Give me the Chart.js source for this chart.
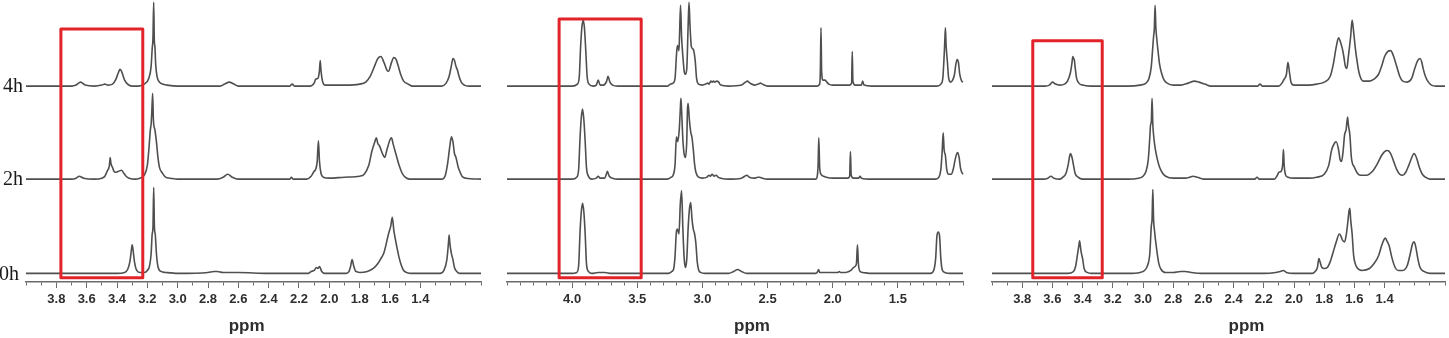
<!DOCTYPE html>
<html>
<head>
<meta charset="utf-8">
<script src="https://cdn.jsdelivr.net/npm/chart.js@4.4.0/dist/chart.umd.min.js"></script>
<style>
  html, body { margin: 0; padding: 0; background: #fff; }
  body { width: 1449px; height: 338px; position: relative; overflow: hidden; }
  canvas { position: absolute; top: 0; }
</style>
</head>
<body>
<canvas id="chA" width="490" height="338" style="left:0px"></canvas>
<canvas id="chB" width="480" height="338" style="left:490px"></canvas>
<canvas id="chC" width="479" height="338" style="left:970px"></canvas>
<script>
// ---------- data: [ppm, intensity] ----------
var HOURS = ['4h', '2h', '0h'];

var A_4h = [[4.00,0],[3.70,0],[3.67,1],[3.64,4],[3.61,1],[3.55,0],[3.50,1],[3.48,2],[3.46,1],[3.43,2],[3.41,6],[3.39,14],[3.38,17],[3.37,15],[3.35,6],[3.33,2],[3.30,0],[3.26,0],[3.22,2],[3.19,8],[3.175,20],[3.168,38],[3.163,48],[3.158,85],[3.154,46],[3.15,40],[3.145,22],[3.135,9],[3.12,4],[3.10,2],[3.07,1],[3.00,0],[2.72,0],[2.69,2],[2.66,4],[2.63,2],[2.60,0],[2.26,0],[2.245,2],[2.23,0],[2.13,0],[2.10,3],[2.09,7],[2.075,8],[2.065,16],[2.06,26],[2.055,16],[2.045,5],[2.03,1],[2.00,1],[1.90,1],[1.80,2],[1.76,4],[1.73,10],[1.70,21],[1.68,28],[1.66,30],[1.64,24],[1.62,16],[1.61,15],[1.59,24],[1.575,29],[1.56,27],[1.545,20],[1.53,12],[1.51,5],[1.48,2],[1.45,0],[1.26,0],[1.23,3],[1.21,10],[1.195,21],[1.185,28],[1.175,26],[1.165,20],[1.155,16],[1.145,10],[1.13,4],[1.11,1],[1.08,0],[1.00,0]];
var A_2h = [[4.00,0],[3.70,0],[3.67,1],[3.65,3],[3.62,1],[3.55,0],[3.50,1],[3.48,3],[3.465,8],[3.45,14],[3.445,22],[3.44,16],[3.43,12],[3.42,8],[3.41,7],[3.39,8],[3.37,9],[3.355,6],[3.34,3],[3.32,1],[3.28,0],[3.25,1],[3.22,4],[3.20,14],[3.19,30],[3.18,50],[3.175,56],[3.17,70],[3.165,87],[3.16,60],[3.15,50],[3.14,38],[3.13,22],[3.12,12],[3.10,6],[3.08,2],[3.05,1],[3.00,0],[2.74,0],[2.70,2],[2.67,5],[2.64,2],[2.60,0],[2.26,0],[2.25,2],[2.24,0],[2.15,0],[2.12,3],[2.10,8],[2.09,10],[2.08,18],[2.072,39],[2.065,18],[2.055,6],[2.04,2],[2.00,1],[1.90,2],[1.80,3],[1.77,5],[1.74,14],[1.72,28],[1.70,38],[1.69,42],[1.68,36],[1.67,34],[1.65,26],[1.635,22],[1.62,30],[1.60,40],[1.59,42],[1.58,36],[1.56,25],[1.54,14],[1.52,6],[1.50,2],[1.47,0],[1.26,0],[1.235,4],[1.22,16],[1.205,34],[1.195,43],[1.185,38],[1.175,26],[1.165,22],[1.15,12],[1.14,8],[1.125,3],[1.10,1],[1.00,0]];
var A_0h = [[4.00,0],[3.40,0],[3.35,1],[3.33,4],[3.315,12],[3.305,24],[3.30,29],[3.295,25],[3.285,12],[3.27,3],[3.25,1],[3.22,1],[3.20,3],[3.185,8],[3.175,20],[3.168,40],[3.163,46],[3.158,87],[3.153,46],[3.148,40],[3.14,20],[3.13,7],[3.11,2],[3.08,1],[3.00,0],[2.80,1],[2.76,2],[2.74,2],[2.70,1],[2.60,1],[2.40,0],[2.14,0],[2.12,2],[2.10,3],[2.085,6],[2.075,5],[2.065,7],[2.05,2],[2.03,0],[1.89,0],[1.87,2],[1.86,7],[1.85,14],[1.84,8],[1.825,2],[1.80,1],[1.75,2],[1.71,5],[1.68,10],[1.66,15],[1.64,21],[1.625,30],[1.61,40],[1.595,48],[1.585,57],[1.575,44],[1.565,35],[1.555,27],[1.54,16],[1.525,8],[1.51,3],[1.49,1],[1.46,0],[1.27,0],[1.245,3],[1.225,14],[1.215,30],[1.21,39],[1.205,30],[1.195,20],[1.185,14],[1.175,6],[1.16,2],[1.14,0],[1.00,0]];

var B_4h = [[4.50,0],[4.00,0],[3.96,2],[3.945,10],[3.935,40],[3.925,60],[3.915,67],[3.905,58],[3.895,35],[3.885,10],[3.87,2],[3.84,0],[3.815,1],[3.80,6],[3.785,1],[3.76,1],[3.735,5],[3.725,10],[3.71,4],[3.69,1],[3.65,0],[3.27,0],[3.245,2],[3.225,3],[3.21,8],[3.20,30],[3.195,38],[3.19,41],[3.18,36],[3.175,55],[3.168,82],[3.16,50],[3.15,30],[3.14,15],[3.13,12],[3.12,18],[3.11,60],[3.103,85],[3.095,60],[3.085,40],[3.075,38],[3.065,35],[3.055,25],[3.045,8],[3.03,2],[3.00,1],[2.975,2],[2.96,3],[2.95,2],[2.935,5],[2.925,4],[2.915,5],[2.905,4],[2.89,5],[2.875,4],[2.86,1],[2.80,0],[2.70,1],[2.67,4],[2.655,5],[2.635,3],[2.60,1],[2.57,2],[2.555,3],[2.54,2],[2.50,0],[2.12,0],[2.10,2],[2.095,15],[2.09,59],[2.085,15],[2.075,6],[2.06,6],[2.045,4],[2.03,2],[2.00,1],[1.87,1],[1.855,3],[1.85,35],[1.845,5],[1.83,1],[1.78,1],[1.77,5],[1.76,1],[1.70,0],[1.20,0],[1.17,2],[1.155,8],[1.145,30],[1.14,45],[1.135,59],[1.13,42],[1.12,25],[1.11,8],[1.095,4],[1.08,6],[1.065,12],[1.055,22],[1.045,27],[1.035,24],[1.025,12],[1.01,5],[1.00,4]];
var B_2h = [[4.50,0],[4.00,0],[3.965,2],[3.95,10],[3.94,40],[3.93,62],[3.92,71],[3.91,60],[3.90,38],[3.89,12],[3.875,3],[3.85,0],[3.815,1],[3.80,3],[3.785,1],[3.75,1],[3.735,6],[3.73,8],[3.715,3],[3.69,1],[3.65,0],[3.27,0],[3.24,2],[3.225,4],[3.21,15],[3.20,43],[3.19,38],[3.178,50],[3.17,70],[3.165,82],[3.16,70],[3.15,40],[3.14,25],[3.13,22],[3.12,40],[3.115,70],[3.11,77],[3.10,60],[3.09,48],[3.08,42],[3.07,30],[3.06,15],[3.05,7],[3.03,2],[3.00,1],[2.965,2],[2.95,4],[2.94,3],[2.925,5],[2.91,3],[2.895,4],[2.88,2],[2.86,1],[2.80,0],[2.70,1],[2.675,3],[2.66,4],[2.64,2],[2.60,1],[2.575,2],[2.56,2],[2.54,1],[2.50,0],[2.13,0],[2.12,2],[2.112,15],[2.107,42],[2.10,12],[2.09,5],[2.07,3],[2.05,2],[2.00,1],[1.885,1],[1.87,3],[1.864,28],[1.858,4],[1.84,1],[1.80,1],[1.79,3],[1.78,1],[1.70,0],[1.21,0],[1.185,2],[1.17,10],[1.16,28],[1.152,47],[1.145,30],[1.135,24],[1.125,10],[1.11,5],[1.09,5],[1.075,10],[1.06,20],[1.05,25],[1.04,27],[1.03,22],[1.02,12],[1.01,7],[1.00,5]];
var B_0h = [[4.50,0],[4.00,0],[3.965,1],[3.95,8],[3.94,40],[3.93,62],[3.92,71],[3.91,62],[3.90,40],[3.89,10],[3.875,2],[3.85,0],[3.80,1],[3.75,1],[3.70,0],[3.26,0],[3.235,2],[3.22,5],[3.21,18],[3.20,42],[3.192,45],[3.18,40],[3.17,70],[3.16,84],[3.15,45],[3.14,15],[3.13,6],[3.12,15],[3.11,45],[3.10,65],[3.09,72],[3.08,55],[3.07,45],[3.06,40],[3.05,30],[3.04,12],[3.03,4],[3.015,1],[2.98,0],[2.80,0],[2.76,2],[2.73,4],[2.70,2],[2.66,0],[2.13,0],[2.115,2],[2.108,4],[2.10,1],[2.00,1],[1.96,1],[1.95,2],[1.94,1],[1.90,1],[1.86,3],[1.84,6],[1.83,7],[1.818,10],[1.81,29],[1.803,10],[1.79,2],[1.77,1],[1.70,0],[1.25,0],[1.225,3],[1.21,15],[1.20,38],[1.19,42],[1.18,38],[1.17,15],[1.16,4],[1.14,1],[1.10,0],[1.00,0]];

var C_4h = [[4.00,0],[3.65,0],[3.62,1],[3.60,4],[3.58,2],[3.55,1],[3.52,2],[3.50,5],[3.48,14],[3.47,24],[3.465,30],[3.46,28],[3.455,27],[3.45,20],[3.44,8],[3.425,3],[3.40,1],[3.35,0],[3.10,0],[3.02,1],[2.98,3],[2.96,8],[2.945,20],[2.935,40],[2.93,50],[2.925,58],[2.92,82],[2.915,60],[2.91,50],[2.90,35],[2.89,22],[2.875,12],[2.86,6],[2.84,3],[2.80,1],[2.75,1],[2.70,3],[2.66,5],[2.63,4],[2.59,2],[2.55,0],[2.24,0],[2.225,2],[2.21,0],[2.10,0],[2.08,3],[2.065,7],[2.05,12],[2.04,24],[2.03,14],[2.02,4],[2.00,1],[1.90,1],[1.85,2],[1.80,4],[1.76,10],[1.74,22],[1.72,40],[1.705,49],[1.695,46],[1.68,38],[1.67,30],[1.66,20],[1.65,18],[1.64,30],[1.625,50],[1.615,67],[1.605,55],[1.595,40],[1.585,28],[1.57,14],[1.555,7],[1.54,5],[1.50,5],[1.47,7],[1.44,12],[1.42,20],[1.40,30],[1.38,35],[1.36,36],[1.34,30],[1.32,20],[1.30,10],[1.28,5],[1.25,4],[1.22,8],[1.20,18],[1.18,26],[1.165,28],[1.155,25],[1.145,18],[1.13,10],[1.11,4],[1.09,1],[1.06,0],[1.00,0]];
var C_2h = [[4.00,0],[3.66,0],[3.63,1],[3.61,3],[3.59,1],[3.55,0],[3.53,2],[3.51,6],[3.495,15],[3.485,24],[3.48,26],[3.47,22],[3.46,14],[3.45,6],[3.43,2],[3.40,0],[3.10,0],[3.03,1],[3.00,3],[2.98,8],[2.965,20],[2.955,42],[2.95,55],[2.945,58],[2.94,82],[2.935,56],[2.93,45],[2.92,32],[2.905,20],[2.89,12],[2.87,6],[2.85,3],[2.80,1],[2.72,1],[2.69,2],[2.67,3],[2.64,2],[2.60,0],[2.26,0],[2.245,2],[2.23,0],[2.13,0],[2.11,4],[2.10,7],[2.085,8],[2.075,15],[2.07,30],[2.065,14],[2.055,4],[2.04,2],[2.00,1],[1.90,1],[1.85,2],[1.80,5],[1.77,14],[1.75,30],[1.73,37],[1.72,38],[1.705,30],[1.695,20],[1.685,18],[1.675,28],[1.665,45],[1.655,50],[1.645,63],[1.64,55],[1.63,45],[1.62,22],[1.60,12],[1.58,6],[1.56,4],[1.52,4],[1.48,8],[1.45,15],[1.42,24],[1.40,28],[1.38,29],[1.36,26],[1.34,18],[1.32,10],[1.30,5],[1.28,4],[1.26,7],[1.24,14],[1.22,22],[1.205,26],[1.195,24],[1.185,20],[1.17,12],[1.15,5],[1.13,2],[1.10,0],[1.00,0]];
var C_0h = [[4.00,0],[3.50,0],[3.46,2],[3.445,8],[3.435,18],[3.425,28],[3.42,33],[3.415,28],[3.41,22],[3.40,15],[3.39,5],[3.37,1],[3.34,0],[3.10,0],[3.02,1],[2.99,3],[2.97,8],[2.955,20],[2.945,48],[2.94,55],[2.935,85],[2.93,55],[2.925,45],[2.91,25],[2.895,10],[2.88,4],[2.85,1],[2.80,1],[2.75,2],[2.72,2],[2.68,1],[2.60,0],[2.20,0],[2.12,1],[2.09,2],[2.07,3],[2.05,1],[2.00,0],[1.88,0],[1.86,2],[1.845,6],[1.835,15],[1.828,12],[1.815,6],[1.80,5],[1.78,6],[1.76,12],[1.74,22],[1.72,32],[1.70,40],[1.69,38],[1.68,34],[1.665,32],[1.655,38],[1.645,50],[1.635,64],[1.63,66],[1.625,55],[1.615,40],[1.605,18],[1.59,8],[1.57,4],[1.55,3],[1.50,5],[1.47,10],[1.44,18],[1.42,28],[1.405,34],[1.395,36],[1.385,33],[1.37,28],[1.35,15],[1.33,6],[1.31,3],[1.28,3],[1.25,8],[1.23,20],[1.215,30],[1.205,32],[1.195,28],[1.18,15],[1.165,6],[1.14,2],[1.10,0],[1.00,0]];

// tick labels shown on each ppm axis
var TICKS_A = ['3.8','3.6','3.4','3.2','3.0','2.8','2.6','2.4','2.2','2.0','1.8','1.6','1.4'];
var TICKS_B = ['4.0','3.5','3.0','2.5','2.0','1.5'];
var TICKS_C = ['3.8','3.6','3.4','3.2','3.0','2.8','2.6','2.4','2.2','2.0','1.8','1.6','1.4'];

// highlighted regions [from ppm, to ppm, top in 4h units]
var BOX_A = [3.77, 3.23, 58];
var BOX_B = [4.10, 3.47, 68];
var BOX_C = [3.73, 3.27, 46];

// ---------- layout ----------
var AXES = ['y4', 'y2', 'y0'];
var PLOT_H = 286;                 // chart area height (px)
var BASE = [87.3, 181.7, 277.3];  // baseline of each trace from top (px)
var LINE = '#4f4f4f';
var SANS = "'Liberation Sans', Arial, sans-serif";

var decor = {
  id: 'decor',
  afterDatasetsDraw: function (chart, args, opts) {
    var ctx = chart.ctx, s = chart.scales;
    var l = s.x.getPixelForValue(opts.box[0]);
    var r = s.x.getPixelForValue(opts.box[1]);
    var t = s.y4.getPixelForValue(opts.box[2]);
    var b = s.y0.getPixelForValue(-4.4);
    ctx.save();
    ctx.strokeStyle = '#e3232a';
    ctx.lineWidth = 3;
    ctx.lineJoin = 'round';
    ctx.strokeRect(l, t, r - l, b - t);
    ctx.restore();
  },
  afterDraw: function (chart, args, opts) {
    var ctx = chart.ctx, s = chart.scales;
    ctx.save();
    // axis title
    ctx.fillStyle = '#2e2e2e';
    ctx.font = 'bold 17px ' + SANS;
    ctx.textAlign = 'center';
    ctx.textBaseline = 'middle';
    ctx.fillText('ppm', s.x.getPixelForValue(opts.titleAt), 326);
    // time labels, left panel only
    if (opts.hours) {
      ctx.fillStyle = '#1a1a1a';
      ctx.font = "20px 'Liberation Serif', 'Times New Roman', serif";
      ctx.textAlign = 'right';
      for (var i = 0; i < HOURS.length; i++) {
        var xr = i === 2 ? 19 : 23;
        ctx.fillText(HOURS[i], xr, s[AXES[i]].getPixelForValue(0) + 1);
      }
    }
    ctx.restore();
  }
};

function spectrum(id, traces, xMax, ticks, box, titleAt, padL, padR, hours) {
  var scales = {
    x: {
      type: 'linear',
      reverse: true,
      min: 1.0,
      max: xMax,
      border: { display: true, color: '#6b6b6b', width: 1.5 },
      grid: {
        display: true,
        drawOnChartArea: false,
        drawTicks: true,
        tickLength: 6,
        tickColor: '#6b6b6b',
        tickWidth: 1,
        tickBorderDash: function (c) {
          return ticks.indexOf(c.tick.value.toFixed(1)) >= 0 ? [] : [3, 20];
        }
      },
      ticks: {
        stepSize: 0.1,
        autoSkip: false,
        maxRotation: 0,
        padding: 4,
        color: '#2e2e2e',
        font: { family: SANS, size: 13, weight: 'bold' },
        callback: function (v) {
          var s = Number(v).toFixed(1);
          return ticks.indexOf(s) >= 0 ? s : '';
        }
      }
    }
  };
  AXES.forEach(function (a, i) {
    scales[a] = { type: 'linear', display: false, min: BASE[i] - PLOT_H, max: BASE[i] };
  });

  new Chart(document.getElementById(id), {
    type: 'line',
    data: {
      datasets: traces.map(function (t, i) {
        return {
          label: HOURS[i],
          data: t.map(function (p) { return { x: p[0], y: p[1] }; }),
          yAxisID: AXES[i],
          borderColor: LINE,
          borderWidth: 1.6,
          pointRadius: 0,
          fill: false,
          clip: false,
          cubicInterpolationMode: 'monotone'
        };
      })
    },
    options: {
      responsive: false,
      animation: false,
      events: [],
      layout: { padding: { left: padL, right: padR, top: 0, bottom: 26.4 } },
      plugins: {
        legend: { display: false },
        tooltip: { enabled: false },
        decor: { box: box, titleAt: titleAt, hours: hours }
      },
      scales: scales
    },
    plugins: [decor]
  });
}

spectrum('chA', [A_4h, A_2h, A_0h], 4.0, TICKS_A, BOX_A, 2.545, 26, 9, true);
spectrum('chB', [B_4h, B_2h, B_0h], 4.5, TICKS_B, BOX_B, 2.62, 17, 7, false);
spectrum('chC', [C_4h, C_2h, C_0h], 4.0, TICKS_C, BOX_C, 2.315, 22, 2, false);
</script>
</body>
</html>
